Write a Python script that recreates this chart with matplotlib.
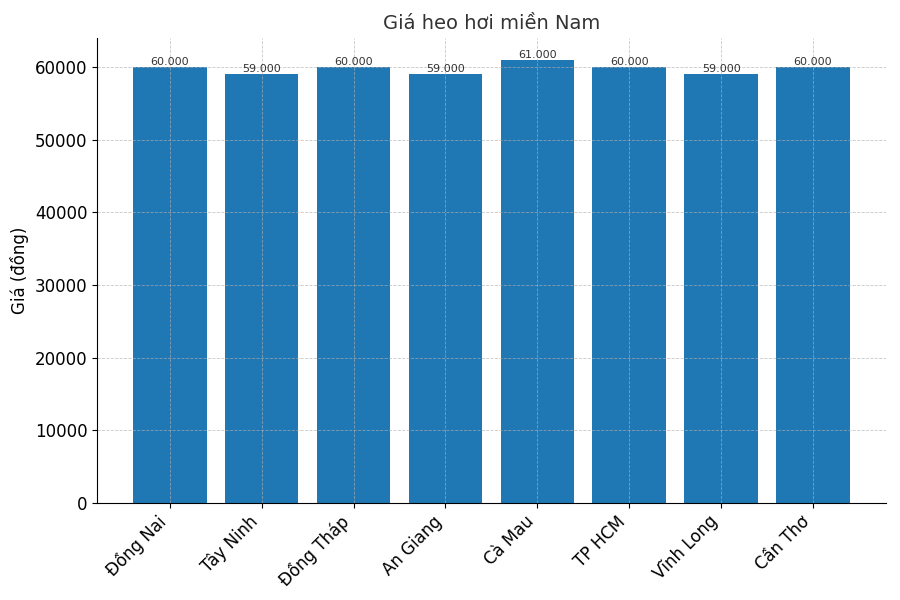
import matplotlib
matplotlib.use("Agg")
import matplotlib.pyplot as plt

provinces = ["Đồng Nai", "Tây Ninh", "Đồng Tháp", "An Giang", "Cà Mau", "TP HCM", "Vĩnh Long", "Cần Thơ"]
prices = [60000, 59000, 60000, 59000, 61000, 60000, 59000, 60000]

fig, ax = plt.subplots(figsize=(9, 6), dpi=100)
bars = ax.bar(provinces, prices, color="#1f77b4")
for b, v in zip(bars, prices):
    ax.text(b.get_x() + b.get_width() / 2, v, f"{v:,}".replace(",", "."),
            ha="center", va="bottom", fontsize=8, color="#333333")
ax.set_title("Giá heo hơi miền Nam", fontsize=14, color="#333333")
ax.set_ylabel("Giá (đồng)", fontsize=12)
ax.tick_params(labelsize=12)
plt.setp(ax.get_xticklabels(), rotation=45, ha="right")
ax.grid(True, linestyle="--", linewidth=0.6, alpha=0.7)
ax.spines["top"].set_visible(False)
ax.spines["right"].set_visible(False)
fig.subplots_adjust(left=0.108, right=0.984, top=0.937, bottom=0.162)
fig.savefig("out.png")
